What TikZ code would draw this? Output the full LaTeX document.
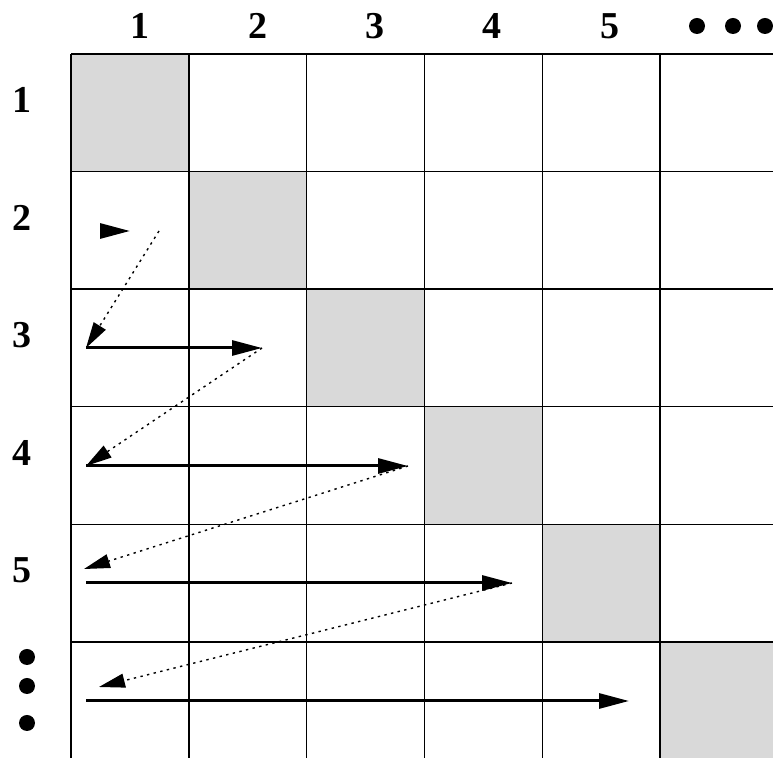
\documentclass[tikz,border=0pt]{standalone}
\usepackage{fontspec}
\setmainfont{Liberation Serif}
\usetikzlibrary{positioning, arrows.meta}

\begin{document}
\begin{tikzpicture}[x=0.5pt, y=-0.5pt,
        diag/.style={fill=gray!30},
        gridline/.style={line width=0.7pt},
        lbl/.style={font=\fontsize{19}{19}\selectfont\bfseries, inner sep=0pt},
        dot/.style={circle, fill=black, inner sep=0pt, minimum size=8pt},
        sweep/.style={-{Triangle[length=15pt, width=7.5pt]}, line width=1.5pt},
        jump/.style={-{Triangle[length=13pt, width=7pt]}, dash pattern=on 1.2pt off 2.2pt, line width=0.7pt},
    ]
        \clip (0,0) rectangle (773,758);

        % ====== 对角格子 + 网格 ======
        \foreach \i in {0,...,5}
            \fill[diag] ({71+117.8*\i},{54+117.6*\i}) rectangle +(117.8,117.6);
        \foreach \i in {0,...,5}
            \draw[gridline] ({71+117.8*\i},54) -- ({71+117.8*\i},760);
        \foreach \j in {0,...,5}
            \draw[gridline] (71,{54+117.6*\j}) -- (775,{54+117.6*\j});

        % ====== 列号 / 行号 ======
        \node[lbl] (c1) at (140,26) {1};
        \node[lbl] (c2) at (258,26) {2};
        \node[lbl] (c3) at (375,26) {3};
        \node[lbl] (c4) at (492,26) {4};
        \node[lbl] (c5) at (610,26) {5};
        \node[dot] (cd1) at (697,26) {};
        \node[dot] (cd2) at (733,26) {};
        \node[dot] (cd3) at (765,26) {};

        \node[lbl] (r1) at (22,100) {1};
        \node[lbl] (r2) at (22,218) {2};
        \node[lbl] (r3) at (22,335) {3};
        \node[lbl] (r4) at (22,453) {4};
        \node[lbl] (r5) at (22,570) {5};
        \node[dot] (rd1) at (27,657) {};
        \node[dot] (rd2) at (27,686) {};
        \node[dot] (rd3) at (27,723) {};

        % 箭头端点
        \coordinate (s2) at (100,231); \coordinate (e2) at (130,231);
        \coordinate (j2) at (159,231);
        \coordinate (s3) at (86,348);  \coordinate (e3) at (262,348);
        \coordinate (s4) at (86,466);  \coordinate (e4) at (408,466);
        \coordinate (t5) at (84,569);
        \coordinate (s5) at (86,583);  \coordinate (e5) at (512,583);
        \coordinate (t6) at (99,687);
        \coordinate (s6) at (86,701);  \coordinate (e6) at (629,701);

        % ====== 实线：逐行扫描 ======
        \draw[sweep] (s2) -- (e2);
        \draw[sweep] (s3) -- (e3);
        \draw[sweep] (s4) -- (e4);
        \draw[sweep] (s5) -- (e5);
        \draw[sweep] (s6) -- (e6);

        % ====== 虚线：换行 ======
        \draw[jump] (j2) -- (s3);
        \draw[jump] (e3) -- (s4);
        \draw[jump] (e4) -- (t5);
        \draw[jump] (e5) -- (t6);
    \end{tikzpicture}
\end{document}
